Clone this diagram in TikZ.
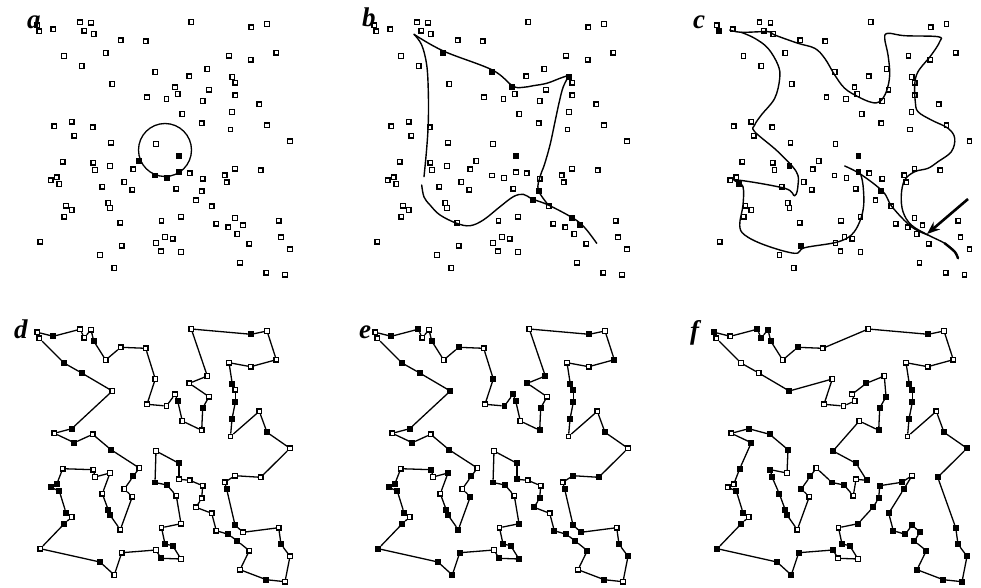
\documentclass[tikz,border=0pt]{standalone}
\usepackage{fontspec}
\setmainfont{Liberation Serif}
\usetikzlibrary{arrows.meta}
\tikzset{
  city/.style={draw, rectangle, line width=1.3pt, minimum size=4.4pt, inner sep=0pt},
  tourline/.style={line width=1.3pt},
  netline/.style={line width=1.4pt, line cap=round},
  panellabel/.style={font=\fontsize{27}{27}\selectfont\bfseries\itshape, inner sep=0pt, anchor=base west},
}
\def\citylist{37.3/25.3, 53.3/29.3, 80/22.3, 84.3/30.7, 91/22.7, 93.7/34, 105.7/53, 120.7/40.3, 145.7/41.3, 155.3/72,
147/97.3, 166.5/99, 175/87.3, 177.7/94, 182.3/114, 201.7/123.3, 202.7/101, 209/89.7, 189.3/76.3, 207.3/69,
191.3/22, 251.3/27.3, 267/24, 276.3/52.7, 250.7/59.7, 229/55.7, 232.3/77, 235.3/82.7, 235.3/95.3, 232/112,
230.5/129.5, 259.3/104.3, 267/125.3, 290/141.3, 260.7/170.3, 235/168.7, 224.7/175.3, 226.7/182.3, 235/218, 243/225.3,
278.7/220.7, 281/237.3, 290/249.3, 285/274.7, 266.3/272.7, 240/262.7, 249.3/243.7, 237.3/234, 228.3/227.3, 216.3/223.7,
211.7/206.3, 196/200.3, 201.7/191.3, 202.7/178.7, 189.7/173.3, 179/172.3, 179/156.3, 156/144, 155/175.5, 167/178,
176.3/188.7, 181/216.7, 161.5/220.7, 165/237, 172.7/238.7, 181/252, 161/251.3, 156/243, 121.7/245.7, 114.3/268,
100/255, 40.3/241.7, 64.3/216.7, 71.7/210, 66/205.7, 59.3/184, 50.7/180.3, 56.7/177.3, 62.7/161.7, 93.3/162.7,
95/170, 110/166, 102.3/186.7, 108.3/203, 110/208, 120.3/222.7, 132.3/189.7, 124.3/182, 133.3/169.3, 139.3/161,
111/142.7, 92.7/127.3, 74.3/135.7, 54.3/126.3, 71.7/121.7, 112.3/84, 81.7/66, 64/56, 39.3/31.3}
\newcommand\placecities[2]{%
  \foreach \x/\y [count=\i] in \citylist {\node[city] (#1-\i) at (\x,\y) {};}
  \foreach \i in {#2} {\fill (#1-\i.south west) rectangle (#1-\i.north east);}
}
\newcommand\drawtour[2]{%
  \foreach \a [remember=\a as \b (initially 99)] in {#2} {\draw[tourline] (#1-\b) -- (#1-\a);}
}
\begin{document}
\begin{tikzpicture}[x=1pt,y=-1pt]
\useasboundingbox (0,0) rectangle (981,588);
% ---------- panel a
\begin{scope}
  \placecities{a}{90,59,60,56,57}
\end{scope}
\node[draw, circle, line width=1.3pt, minimum size=53pt, inner sep=0pt] (ring) at (165,150) {};
% ---------- panel b
\begin{scope}[shift={(337,0)}]
  \placecities{b}{7,10,13,27,39,40,52,53,57}
\end{scope}
\draw[netline] plot[smooth, tension=0.6] coordinates {(414,34.3) (443.3,51) (492.3,70) (512.7,86) (523.3,87.3) (533.3,85.7) (546.7,83.3) (560,78.3) (569.3,75)};
\draw[netline] plot[smooth, tension=0.6] coordinates {(569.3,75) (563.3,86.7) (559.3,101.7) (555,121.7) (550,145) (544.3,165) (540,176.7) (538.3,190) (548.3,205)};
\draw[netline] plot[smooth, tension=0.6] coordinates {(421.7,185) (424,197) (430,205) (440,215) (456.7,223.3) (470,225.7) (483.3,220) (500,206.7) (513.3,196.7) (523.3,194.3) (532.3,199) (548.3,205) (573.3,218.3) (585,228) (596.7,243.3)};
\draw[netline] plot[smooth, tension=0.6] coordinates {(414,34.3) (421.7,45) (426.7,65) (428.3,91.7) (428.3,121.7) (426.7,148.3) (424,176.7)};
% ---------- panel c
\begin{scope}[shift={(679.5,0)}]
  \placecities{c}{99,57,56,53,82,69,76}
\end{scope}
\draw[netline] plot[smooth, tension=0.6] coordinates {(729.7,30) (741.3,32.3) (768,31.7) (774.7,35) (798,43.3) (814.7,48.3) (824.7,58.3) (834.7,75) (844.7,88.3) (858,96.7) (871.3,102.3) (879.7,101.7) (886.3,91.7) (889.7,75) (888,55) (884.7,38.3) (888,33.3) (904.7,35.7) (938,36.7) (939.7,41.7) (931.3,55) (918,71.7) (914.7,85) (915.3,101.7) (918,111.7) (931.3,120) (948,128.3) (954.7,138.3) (951.3,151.7) (938,161.7) (928,168.3) (914.7,171.7) (904.7,180) (901.3,195) (903,211.7) (911.3,225) (928,235) (944.7,243.3) (954.7,251.7) (958,258.3)};
\draw[line width=2.4pt, line cap=round] plot[smooth] coordinates {(944.7,243.3) (954.7,251.7) (958,258.3)};
\draw[netline] plot[smooth, tension=0.6] coordinates {(844.7,166) (860.7,174.3) (883,191.7) (892,206.7) (911.3,226.7) (928,235)};
\draw[netline] plot[smooth, tension=0.6] coordinates {(860.7,174.3) (863,185) (863.7,205) (859.7,221.7) (851.3,235) (836.3,242.3) (804.7,247.7) (794.7,253.3) (764.7,245) (744.7,235) (739.7,225) (743,205) (743,186.7) (736.3,180) (784.7,188.3) (794.7,195.7) (798,185) (796.3,171.7) (778,151.7) (754.7,131.7) (754.7,125) (761.3,115) (774.7,98.3) (779.7,78.3) (778,65) (768,48.3) (754.7,38.3) (741.3,32.3)};
\coordinate (arrowtail) at (968,199);
\coordinate (arrowhead) at (927,234);
\draw[line width=2.6pt, -{Stealth[length=13pt,width=10pt]}] (arrowtail) -- (arrowhead);
% ---------- panel d
\begin{scope}[shift={(0,307)}]
  \placecities{d}{2,6,14,17,22,27,29,30,33,38,39,42,45,48,49,57,59,60,64,65,67,71,73,75,76,77,78,84,85,89,91,93,95,97,98}
\end{scope}
\drawtour{d}{1,2,3,4,5,6,7,8,9,10,11,12,13,14,15,16,17,18,19,20,21,22,23,24,25,26,27,28,29,30,31,32,33,34,35,36,37,38,39,40,41,42,43,44,45,46,47,48,49,50,51,52,53,54,55,56,57,58,59,60,61,62,63,64,65,66,67,68,69,70,71,72,73,74,75,76,77,78,79,80,81,82,83,84,85,86,87,88,89,90,91,92,93,94,95,96,97,98,99}
% ---------- panel e
\begin{scope}[shift={(338,307)}]
  \placecities{e}{2,3,6,8,10,12,13,14,16,17,19,20,22,24,27,28,29,30,33,35,36,38,39,40,42,43,45,47,48,49,50,52,53,56,57,59,60,62,64,65,66,67,69,70,71,72,73,75,76,77,78,80,82,84,85,86,87,89,91,93,95,96,97,98}
\end{scope}
\drawtour{e}{1,2,3,4,5,6,7,8,9,10,11,12,13,14,15,16,17,18,19,20,21,22,23,24,25,26,27,28,29,30,31,32,33,34,35,36,37,38,39,40,41,42,43,44,45,46,47,48,49,50,51,52,53,54,55,56,57,58,59,60,61,62,63,64,65,66,67,68,69,70,71,72,73,74,75,76,77,78,79,80,81,82,83,84,85,86,87,88,89,90,91,92,93,94,95,96,97,98,99}
% ---------- panel f
\begin{scope}[shift={(677,307)}]
  \placecities{f}{1,3,4,5,6,8,16,17,18,19,22,27,28,29,30,33,34,35,37,38,39,40,41,42,43,44,45,46,47,48,49,50,51,52,53,54,55,57,58,59,60,62,64,65,68,69,70,71,72,73,75,76,79,80,81,83,84,85,88,89,91,92,93,95,96}
\end{scope}
\drawtour{f}{1,2,3,4,5,6,7,8,9,21,22,23,24,25,26,27,28,29,30,31,32,33,34,35,41,42,43,44,45,46,47,48,40,39,49,50,51,38,36,37,54,53,52,62,63,64,65,66,67,68,69,70,71,72,73,74,75,76,77,78,79,93,94,95,92,91,82,80,81,83,84,85,86,87,88,89,90,59,60,61,56,55,57,58,15,16,17,18,20,19,13,14,12,11,10,96,97,98,99}
% ---------- labels
\node[panellabel] (la) at (27,29) {a};
\node[panellabel] (lb) at (362,27) {b};
\node[panellabel] (lc) at (693,29) {c};
\node[panellabel] (ld) at (14,338) {d};
\node[panellabel] (le) at (359,338) {e};
\node[panellabel] (lf) at (690,339) {f};
\end{tikzpicture}
\end{document}
